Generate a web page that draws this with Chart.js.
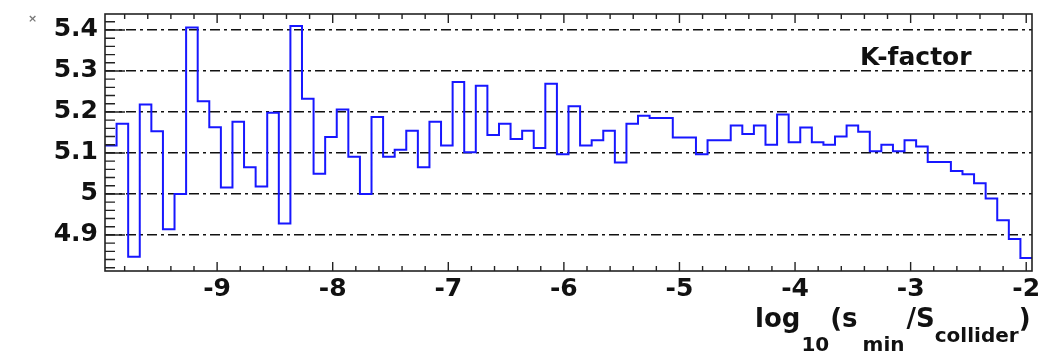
<!DOCTYPE html>
<html>
<head>
<meta charset="utf-8">
<script src="https://cdn.jsdelivr.net/npm/chart.js@4.4.0/dist/chart.umd.min.js"></script>
<style>
  html, body { margin: 0; padding: 0; background: #fff; }
  #wrap { width: 1038px; height: 354px; }
</style>
</head>
<body>
<div id="wrap"><canvas id="kfactor" width="1038" height="354"></canvas></div>
<script>
// histogram range, 80 equal bins
var xMin = -9.97;
var xMax = -1.95;
var yMin = 4.812;
var yMax = 5.439;

// K-factor per bin (left to right)
var kFactor = [
  5.118, 5.171, 4.847, 5.218, 5.153, 4.914, 5.000, 5.406, 5.226, 5.163,
  5.016, 5.176, 5.065, 5.018, 5.198, 4.928, 5.410, 5.232, 5.049, 5.139,
  5.206, 5.091, 5.000, 5.188, 5.091, 5.108, 5.154, 5.065, 5.176, 5.118,
  5.273, 5.102, 5.264, 5.144, 5.171, 5.134, 5.154, 5.112, 5.269, 5.097,
  5.214, 5.118, 5.131, 5.154, 5.077, 5.171, 5.191, 5.185, 5.185, 5.138,
  5.138, 5.097, 5.131, 5.131, 5.167, 5.146, 5.167, 5.120, 5.194, 5.126,
  5.162, 5.126, 5.120, 5.140, 5.167, 5.152, 5.104, 5.120, 5.104, 5.131,
  5.116, 5.078, 5.078, 5.056, 5.048, 5.026, 4.989, 4.936, 4.890, 4.844
];

var xTicks = [-9, -8, -7, -6, -5, -4, -3, -2];
var yTicks = [4.9, 5.0, 5.1, 5.2, 5.3, 5.4];

var labelFont = '"DejaVu Sans", sans-serif';

// bin edges -> step points
var binWidth = (xMax - xMin) / kFactor.length;
var points = kFactor.map(function (v, i) {
  return { x: xMin + i * binWidth, y: v };
});
points.push({ x: xMax, y: kFactor[kFactor.length - 1] });

// frame, inward ticks and the extra texts
var decorPlugin = {
  id: 'decor',
  afterDatasetsDraw: function (chart) {
    var ctx = chart.ctx;
    var a = chart.chartArea;
    var xs = chart.scales.x;
    var ys = chart.scales.y;
    ctx.save();
    ctx.strokeStyle = '#222';
    ctx.lineWidth = 1.4;

    // x ticks every 0.2, bottom and top
    ctx.beginPath();
    for (var i = -49; i <= -10; i++) {
      var px = xs.getPixelForValue(i / 5);
      var len = (i % 5 === 0) ? 9 : 5;
      ctx.moveTo(px, a.bottom); ctx.lineTo(px, a.bottom - len);
      ctx.moveTo(px, a.top); ctx.lineTo(px, a.top + len);
    }
    // y ticks every 0.02 on the left
    for (var j = 241; j <= 271; j++) {
      var py = ys.getPixelForValue(j / 50);
      var ylen = (j % 5 === 0) ? 20 : 10;
      ctx.moveTo(a.left, py); ctx.lineTo(a.left + ylen, py);
    }
    ctx.stroke();

    ctx.lineWidth = 1.6;
    ctx.strokeRect(a.left, a.top, a.right - a.left, a.bottom - a.top);

    ctx.fillStyle = '#111';
    ctx.textBaseline = 'alphabetic';
    ctx.textAlign = 'left';
    ctx.font = 'bold 25px ' + labelFont;
    ctx.fillText('K-factor', 860, 65);

    // axis title with subscripts
    var main = 'bold 26px ' + labelFont;
    var sub = 'bold 20px ' + labelFont;
    var parts = [
      ['log', main, 327, 1],
      ['10', sub, 351, 1],
      ['(s', main, 327, 5],
      ['min', sub, 351, 2],
      ['/S', main, 327, 0],
      ['collider', sub, 342, 0],
      [')', main, 327, 0]
    ];
    var x = 755;
    parts.forEach(function (p) {
      ctx.font = p[1];
      ctx.fillText(p[0], x, p[2]);
      x += ctx.measureText(p[0]).width + p[3];
    });

    ctx.fillStyle = '#777';
    ctx.font = 'bold 11px ' + labelFont;
    ctx.fillText('\u00d7', 28, 22);
    ctx.restore();
  }
};

function fmt(v) {
  return String(Math.round(v * 10) / 10);
}

new Chart(document.getElementById('kfactor'), {
  type: 'line',
  data: {
    datasets: [{
      data: points,
      borderColor: '#1717ff',
      borderWidth: 2,
      pointRadius: 0,
      stepped: 'before',
      fill: false
    }]
  },
  options: {
    responsive: false,
    animation: false,
    layout: { padding: { left: 0, right: 6, top: 14, bottom: 0 } },
    plugins: {
      legend: { display: false },
      tooltip: { enabled: false }
    },
    scales: {
      x: {
        type: 'linear',
        min: xMin,
        max: xMax,
        afterBuildTicks: function (s) { s.ticks = xTicks.map(function (v) { return { value: v }; }); },
        afterFit: function (s) { s.height = 83; s.paddingLeft = 0; s.paddingRight = 0; },
        grid: { display: false, drawTicks: false },
        border: { display: false },
        ticks: {
          padding: 3,
          maxRotation: 0,
          color: '#111',
          font: { family: labelFont, size: 25, weight: 'bold' },
          callback: fmt
        }
      },
      y: {
        type: 'linear',
        min: yMin,
        max: yMax,
        afterBuildTicks: function (s) { s.ticks = yTicks.map(function (v) { return { value: v }; }); },
        afterFit: function (s) { s.width = 105; s.paddingTop = 0; s.paddingBottom = 0; },
        grid: {
          drawTicks: false,
          color: '#111',
          lineWidth: 1.4
        },
        border: { display: false, dash: [10, 4, 3, 4] },
        ticks: {
          padding: 7,
          color: '#111',
          font: { family: labelFont, size: 25, weight: 'bold' },
          callback: fmt
        }
      }
    }
  },
  plugins: [decorPlugin]
});
</script>
</body>
</html>
